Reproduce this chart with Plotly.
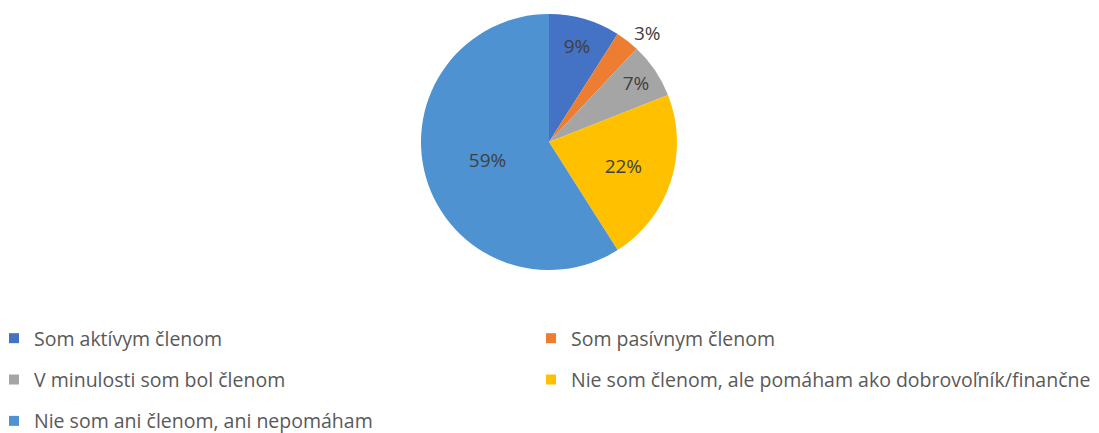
import plotly.graph_objects as go

labels = [
    "Som aktívym členom",
    "Som pasívnym členom",
    "V minulosti som bol členom",
    "Nie som členom, ale pomáham ako dobrovoľník/finančne",
    "Nie som ani členom, ani nepomáham",
]
values = [9, 3, 7, 22, 59]
colors = ["#4472C4", "#ED7D31", "#A5A5A5", "#FFC000", "#4E92D2"]
text_positions = ["inside", "outside", "inside", "inside", "inside"]
legend_column = ["legend", "legend2", "legend", "legend2", "legend"]

# page has an 8px body margin; figure sized to fit the window
W, H = 1091, 425
OFF = 8

fig = go.Figure()
fig.add_trace(
    go.Pie(
        labels=labels,
        values=values,
        sort=False,
        direction="clockwise",
        rotation=0,
        marker=dict(colors=colors, line=dict(width=0)),
        texttemplate="%{percent:.0%}",
        textposition=text_positions,
        insidetextorientation="horizontal",
        textfont=dict(family="Open Sans", size=19, color="#404040"),
        domain=dict(x=[0, (549 - OFF) * 2 / W],
                    y=[1 - (270 - OFF) / H, 1 - (14 - OFF) / H]),
        hoverinfo="label+percent",
        showlegend=False,
    )
)

# legend entries (one per slice) laid out in two columns
for i, (lab, col, leg) in enumerate(zip(labels, colors, legend_column)):
    fig.add_trace(
        go.Scatter(
            x=[None], y=[None], mode="markers", name=lab,
            marker=dict(symbol="square", size=10, color=col),
            legend=leg, legendgroup=f"g{i}", showlegend=True,
            hoverinfo="skip",
        )
    )

legend_common = dict(
    orientation="v",
    xanchor="left",
    yanchor="top",
    y=1 - (340 - OFF - 21) / H,
    tracegroupgap=13,
    font=dict(family="Open Sans", size=19.5, color="#595959"),
    bgcolor="rgba(0,0,0,0)",
    traceorder="grouped",
)

fig.update_layout(
    width=W,
    height=H,
    margin=dict(l=0, r=0, t=0, b=0, autoexpand=False),
    paper_bgcolor="white",
    plot_bgcolor="white",
    xaxis=dict(visible=False),
    yaxis=dict(visible=False),
    legend=dict(x=(-6 - OFF) / W, **legend_common),
    legend2=dict(x=(531 - OFF) / W, **legend_common),
)

fig.write_html("out.html")
